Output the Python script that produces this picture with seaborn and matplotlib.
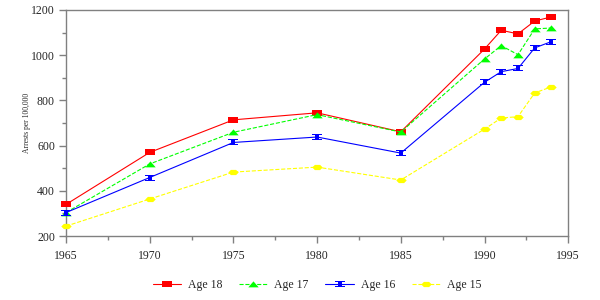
"""Arrest rates per 100,000 by age, 1965-1994."""
import matplotlib
matplotlib.use("Agg")
import matplotlib.pyplot as plt
import pandas as pd
import seaborn as sns
from matplotlib.ticker import MultipleLocator

years = [1965, 1970, 1975, 1980, 1985, 1990, 1991, 1992, 1993, 1994]
age18 = [340, 570, 714, 745, 661, 1027, 1110, 1094, 1151, 1169]
age17 = [304, 519, 659, 737, 660, 983, 1042, 1002, 1116, 1120]
age16 = [304, 459, 614, 638, 567, 880, 927, 941, 1032, 1060]
age15 = [244, 364, 483, 505, 448, 673, 722, 728, 833, 860]

labels = ["Age 18", "Age 17", "Age 16", "Age 15"]
colors = ["#ff0000", "#00ff00", "#0000ff", "#ffff00"]
styles = ["-", "--", "-", "--"]
markers = [
    [(-1, -0.5), (1, -0.5), (1, 0.5), (-1, 0.5)],
    [(-1, -0.55), (1, -0.55), (0, 0.6)],
    [(-1, -0.6), (1, -0.6), (1, -0.3), (0.4, -0.3), (0.4, 0.3), (1, 0.3),
     (1, 0.6), (-1, 0.6), (-1, 0.3), (-0.4, 0.3), (-0.4, -0.3), (-1, -0.3)],
    [(-1, 0), (-0.5, -0.5), (0.5, -0.5), (1, 0), (0.5, 0.5), (-0.5, 0.5)],
]

df = pd.DataFrame({"year": years, "Age 18": age18, "Age 17": age17,
                   "Age 16": age16, "Age 15": age15})

sns.set_style("white")
plt.rcParams["font.family"] = ["Liberation Serif", "DejaVu Serif"]

fig, ax = plt.subplots(figsize=(6, 3), dpi=100)
fig.subplots_adjust(left=0.11, right=0.947, top=0.967, bottom=0.213)

for lab, col, ls, mk in zip(labels, colors, styles, markers):
    sns.lineplot(data=df, x="year", y=lab, ax=ax, color=col, linestyle=ls,
                 linewidth=0.8, marker=mk, markersize=7.5, markeredgewidth=0,
                 label=lab, clip_on=False, zorder=3)

ax.set_xlim(1965, 1995)
ax.set_ylim(200, 1200)
ax.xaxis.set_major_locator(MultipleLocator(5))
ax.xaxis.set_minor_locator(MultipleLocator(2.5))
ax.yaxis.set_major_locator(MultipleLocator(200))
ax.yaxis.set_minor_locator(MultipleLocator(100))
ax.set_xlabel("")
ax.set_ylabel("Arrests per 100,000", fontsize=5.5, labelpad=0)

for sp in ax.spines.values():
    sp.set_color("#808080")
    sp.set_linewidth(1)
ax.tick_params(which="major", direction="out", length=5, width=1,
               color="#808080", labelsize=8.5, bottom=True, left=True)
ax.tick_params(which="minor", direction="out", length=3, width=1,
               color="#808080", bottom=True, left=True)
ax.tick_params(axis="x", pad=5)
ax.tick_params(axis="y", pad=3)

ax.legend(loc="center", bbox_to_anchor=(0.5, -0.217), ncol=4,
          frameon=False, fontsize=8.5, handlelength=2.4, handletextpad=0.6,
          columnspacing=1.4)

fig.savefig("out.png", dpi=100)
